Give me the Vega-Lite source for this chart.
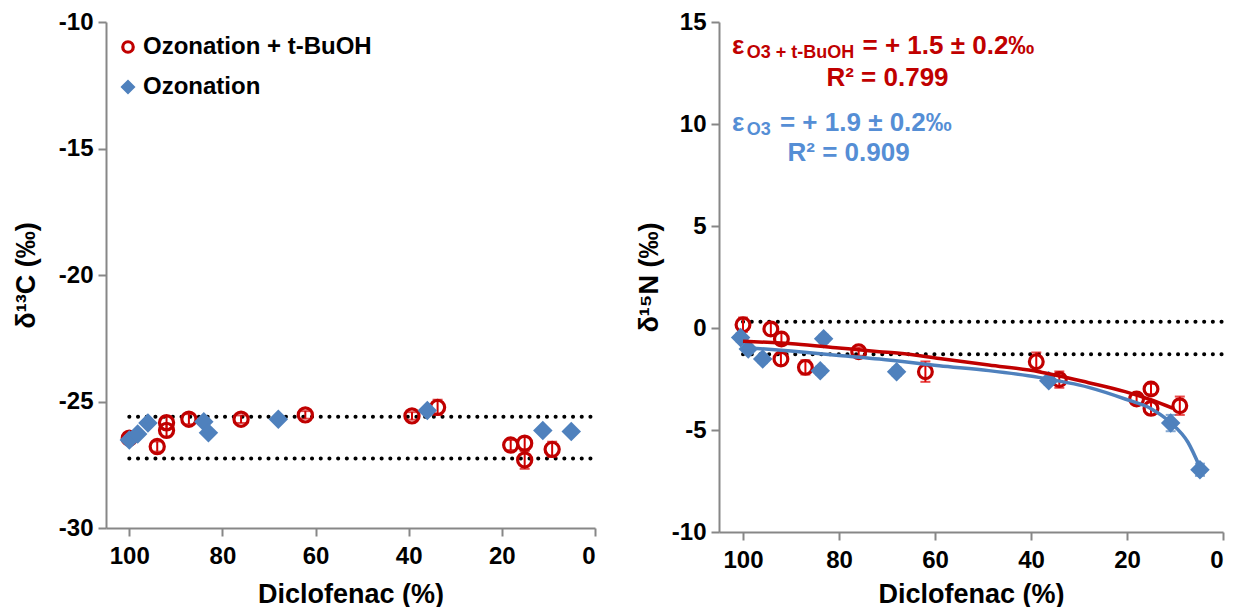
{
  "$schema": "https://vega.github.io/schema/vega-lite/v6.json",
  "background": "white",
  "padding": {"left": 12, "top": 10, "right": 0, "bottom": 0},
  "spacing": 38,
  "config": {
    "view": {"stroke": null},
    "font": "Liberation Sans",
    "axis": {
      "labelFont": "Liberation Sans", "labelFontWeight": "bold", "labelFontSize": 24, "labelColor": "#000000",
      "titleFont": "Liberation Sans", "titleFontWeight": "bold", "titleFontSize": 27, "titleColor": "#000000",
      "domainColor": "#878787", "domainWidth": 2, "tickColor": "#878787", "tickWidth": 2, "tickSize": 8, "grid": false,
      "labelExpr": "datum.value + ''"
    },
    "legend": {
      "labelFont": "Liberation Sans", "labelFontWeight": "bold", "labelFontSize": 24, "labelColor": "#000000",
      "symbolStrokeWidth": 3.2, "symbolSize": 110, "rowPadding": 16, "labelOffset": 3, "labelLimit": 400
    }
  },
  "datasets": {
    "pts": [
      {"panel": "C", "series": "Ozonation + t-BuOH", "f": 100, "v": -26.45, "e": 0.15},
      {"panel": "C", "series": "Ozonation + t-BuOH", "f": 92, "v": -25.84, "e": 0.25},
      {"panel": "C", "series": "Ozonation + t-BuOH", "f": 92, "v": -26.14, "e": 0.25},
      {"panel": "C", "series": "Ozonation + t-BuOH", "f": 94, "v": -26.78, "e": 0.2},
      {"panel": "C", "series": "Ozonation + t-BuOH", "f": 87.2, "v": -25.7, "e": 0.2},
      {"panel": "C", "series": "Ozonation + t-BuOH", "f": 76, "v": -25.7, "e": 0.15},
      {"panel": "C", "series": "Ozonation + t-BuOH", "f": 62.2, "v": -25.53, "e": 0.15},
      {"panel": "C", "series": "Ozonation + t-BuOH", "f": 39.3, "v": -25.57, "e": 0.15},
      {"panel": "C", "series": "Ozonation + t-BuOH", "f": 33.8, "v": -25.23, "e": 0.3},
      {"panel": "C", "series": "Ozonation + t-BuOH", "f": 18.1, "v": -26.72, "e": 0.2},
      {"panel": "C", "series": "Ozonation + t-BuOH", "f": 15.1, "v": -26.65, "e": 0.25},
      {"panel": "C", "series": "Ozonation + t-BuOH", "f": 15.1, "v": -27.31, "e": 0.35},
      {"panel": "C", "series": "Ozonation + t-BuOH", "f": 9.2, "v": -26.89, "e": 0.3},
      {"panel": "C", "series": "Ozonation", "f": 100, "v": -26.52, "e": 0.1},
      {"panel": "C", "series": "Ozonation", "f": 98.2, "v": -26.28, "e": 0.1},
      {"panel": "C", "series": "Ozonation", "f": 96, "v": -25.85, "e": 0.1},
      {"panel": "C", "series": "Ozonation", "f": 84, "v": -25.8, "e": 0.1},
      {"panel": "C", "series": "Ozonation", "f": 83, "v": -26.24, "e": 0.1},
      {"panel": "C", "series": "Ozonation", "f": 68, "v": -25.7, "e": 0.1},
      {"panel": "C", "series": "Ozonation", "f": 36, "v": -25.36, "e": 0.1},
      {"panel": "C", "series": "Ozonation", "f": 11.2, "v": -26.15, "e": 0.1},
      {"panel": "C", "series": "Ozonation", "f": 5.1, "v": -26.19, "e": 0.1},
      {"panel": "N", "series": "Ozonation + t-BuOH", "f": 100, "v": 0.16, "e": 0.35},
      {"panel": "N", "series": "Ozonation + t-BuOH", "f": 94.2, "v": -0.05, "e": 0.3},
      {"panel": "N", "series": "Ozonation + t-BuOH", "f": 92, "v": -0.54, "e": 0.3},
      {"panel": "N", "series": "Ozonation + t-BuOH", "f": 92.1, "v": -1.52, "e": 0.3},
      {"panel": "N", "series": "Ozonation + t-BuOH", "f": 87, "v": -1.93, "e": 0.35},
      {"panel": "N", "series": "Ozonation + t-BuOH", "f": 75.9, "v": -1.16, "e": 0.2},
      {"panel": "N", "series": "Ozonation + t-BuOH", "f": 62, "v": -2.14, "e": 0.5},
      {"panel": "N", "series": "Ozonation + t-BuOH", "f": 38.9, "v": -1.65, "e": 0.45},
      {"panel": "N", "series": "Ozonation + t-BuOH", "f": 34.1, "v": -2.53, "e": 0.4},
      {"panel": "N", "series": "Ozonation + t-BuOH", "f": 18, "v": -3.48, "e": 0.25},
      {"panel": "N", "series": "Ozonation + t-BuOH", "f": 15, "v": -2.99, "e": 0.25},
      {"panel": "N", "series": "Ozonation + t-BuOH", "f": 15, "v": -3.94, "e": 0.3},
      {"panel": "N", "series": "Ozonation + t-BuOH", "f": 9, "v": -3.81, "e": 0.45},
      {"panel": "N", "series": "Ozonation", "f": 100.5, "v": -0.46, "e": 0.2},
      {"panel": "N", "series": "Ozonation", "f": 98.9, "v": -1.03, "e": 0.2},
      {"panel": "N", "series": "Ozonation", "f": 95.9, "v": -1.52, "e": 0.2},
      {"panel": "N", "series": "Ozonation", "f": 83.2, "v": -0.53, "e": 0.2},
      {"panel": "N", "series": "Ozonation", "f": 83.9, "v": -2.09, "e": 0.2},
      {"panel": "N", "series": "Ozonation", "f": 68, "v": -2.14, "e": 0.2},
      {"panel": "N", "series": "Ozonation", "f": 36.3, "v": -2.58, "e": 0.2},
      {"panel": "N", "series": "Ozonation", "f": 10.9, "v": -4.66, "e": 0.4},
      {"panel": "N", "series": "Ozonation", "f": 4.8, "v": -6.95, "e": 0.3}
    ],
    "fits": [
      {"series": "Ozonation + t-BuOH", "f": 100, "v": -0.65},
      {"series": "Ozonation + t-BuOH", "f": 89, "v": -0.78},
      {"series": "Ozonation + t-BuOH", "f": 80, "v": -0.98},
      {"series": "Ozonation + t-BuOH", "f": 71.6, "v": -1.16},
      {"series": "Ozonation + t-BuOH", "f": 67.4, "v": -1.24},
      {"series": "Ozonation + t-BuOH", "f": 59.1, "v": -1.49},
      {"series": "Ozonation + t-BuOH", "f": 48.8, "v": -1.81},
      {"series": "Ozonation + t-BuOH", "f": 38.4, "v": -2.14},
      {"series": "Ozonation + t-BuOH", "f": 28, "v": -2.68},
      {"series": "Ozonation + t-BuOH", "f": 20.4, "v": -3.12},
      {"series": "Ozonation + t-BuOH", "f": 14.9, "v": -3.53},
      {"series": "Ozonation + t-BuOH", "f": 10.4, "v": -3.94},
      {"series": "Ozonation", "f": 100, "v": -0.95},
      {"series": "Ozonation", "f": 90, "v": -1.13},
      {"series": "Ozonation", "f": 80, "v": -1.35},
      {"series": "Ozonation", "f": 71.6, "v": -1.52},
      {"series": "Ozonation", "f": 59.1, "v": -1.85},
      {"series": "Ozonation", "f": 48.8, "v": -2.09},
      {"series": "Ozonation", "f": 38.4, "v": -2.42},
      {"series": "Ozonation", "f": 28, "v": -2.91},
      {"series": "Ozonation", "f": 20.4, "v": -3.48},
      {"series": "Ozonation", "f": 14.9, "v": -3.97},
      {"series": "Ozonation", "f": 11, "v": -4.62},
      {"series": "Ozonation", "f": 7.3, "v": -5.6},
      {"series": "Ozonation", "f": 4.8, "v": -6.83}
    ],
    "ann": [
      {"grp": "red-main", "f": 102.3, "v": 13.43, "label": "ε"},
      {"grp": "red-sub", "f": 99.2, "v": 13.24, "label": "O3 + t-BuOH"},
      {"grp": "red-main", "f": 75.1, "v": 13.43, "label": "= + 1.5 ± 0.2‰"},
      {"grp": "red-r2", "f": 69.9, "v": 11.86, "label": "R² = 0.799"},
      {"grp": "blue-main", "f": 102.3, "v": 9.66, "label": "ε"},
      {"grp": "blue-sub", "f": 99.2, "v": 9.46, "label": "O3"},
      {"grp": "blue-main", "f": 92.3, "v": 9.66, "label": "= + 1.9 ± 0.2‰"},
      {"grp": "blue-r2", "f": 78, "v": 8.19, "label": "R² = 0.909"}
    ]
  },
  "hconcat": [
    {
      "width": 489,
      "height": 506,
      "encoding": {
        "x": {"field": "f", "type": "quantitative", "title": "Diclofenac (%)",
              "scale": {"domain": [0, 105], "reverse": true, "nice": false, "zero": false},
              "axis": {"values": [0, 20, 40, 60, 80, 100], "labelPadding": 8, "titlePadding": 13}},
        "y": {"field": "v", "type": "quantitative", "title": "δ¹³C (‰)",
              "scale": {"domain": [-30, -10], "nice": false, "zero": false},
              "axis": {"values": [-30, -25, -20, -15, -10], "labelPadding": 5, "titlePadding": 18}}
      },
      "layer": [
        {
          "data": {"values": [{"f": 100, "f2": 0, "v": -25.6}, {"f": 100, "f2": 0, "v": -27.25}]},
          "mark": {"type": "rule", "strokeDash": [0.1, 8.6], "strokeCap": "round", "strokeWidth": 4, "color": "#000000"},
          "encoding": {"x2": {"field": "f2"}}
        },
        {
          "data": {"name": "pts"},
          "transform": [{"filter": "datum.panel === 'C' && datum.series === 'Ozonation + t-BuOH'"}],
          "mark": {"type": "errorbar", "thickness": 2, "ticks": {"size": 10, "thickness": 2}},
          "encoding": {"yError": {"field": "e"}, "color": {"value": "#D00000"}}
        },
        {
          "data": {"name": "pts"},
          "transform": [{"filter": "datum.panel === 'C' && datum.series === 'Ozonation + t-BuOH'"}],
          "mark": {"type": "point", "filled": true, "strokeWidth": 3.2, "size": 200, "opacity": 1},
          "encoding": {
            "shape": {"field": "series", "type": "nominal",
                      "scale": {"domain": ["Ozonation + t-BuOH", "Ozonation"], "range": ["circle", "diamond"]},
                      "legend": {"orient": "none", "legendX": 10, "legendY": 13, "title": null}},
            "fill": {"field": "series", "type": "nominal",
                     "scale": {"domain": ["Ozonation + t-BuOH", "Ozonation"], "range": ["transparent", "#4F81BD"]},
                     "legend": {"orient": "none", "legendX": 10, "legendY": 13, "title": null}},
            "stroke": {"field": "series", "type": "nominal",
                       "scale": {"domain": ["Ozonation + t-BuOH", "Ozonation"], "range": ["#C00000", "#4F81BD"]},
                       "legend": {"orient": "none", "legendX": 10, "legendY": 13, "title": null}}
          }
        },
        {
          "data": {"name": "pts"},
          "transform": [{"filter": "datum.panel === 'C' && datum.series === 'Ozonation'"}],
          "mark": {"type": "point", "filled": true, "strokeWidth": 0, "size": 380, "opacity": 1},
          "encoding": {
            "shape": {"field": "series", "type": "nominal"},
            "fill": {"field": "series", "type": "nominal"},
            "stroke": {"field": "series", "type": "nominal"}
          }
        }
      ]
    },
    {
      "width": 504,
      "height": 510,
      "encoding": {
        "x": {"field": "f", "type": "quantitative", "title": "Diclofenac (%)",
              "scale": {"domain": [0, 105], "reverse": true, "nice": false, "zero": false},
              "axis": {"values": [0, 20, 40, 60, 80, 100], "labelPadding": 8, "titlePadding": 9}},
        "y": {"field": "v", "type": "quantitative", "title": "δ¹⁵N (‰)",
              "scale": {"domain": [-10, 15], "nice": false, "zero": false},
              "axis": {"values": [-10, -5, 0, 5, 10, 15], "labelPadding": 5, "titlePadding": 8}}
      },
      "layer": [
        {
          "data": {"values": [{"f": 100, "f2": 0, "v": 0.31}, {"f": 100, "f2": 0, "v": -1.29}]},
          "mark": {"type": "rule", "strokeDash": [0.1, 8.6], "strokeCap": "round", "strokeWidth": 4, "color": "#000000"},
          "encoding": {"x2": {"field": "f2"}}
        },
        {
          "data": {"name": "pts"},
          "transform": [{"filter": "datum.panel === 'N' && datum.series === 'Ozonation + t-BuOH'"}],
          "mark": {"type": "errorbar", "thickness": 2, "ticks": {"size": 10, "thickness": 2}},
          "encoding": {"yError": {"field": "e"}, "color": {"value": "#E00000"}}
        },
        {
          "data": {"name": "pts"},
          "transform": [{"filter": "datum.panel === 'N' && datum.series === 'Ozonation'"}],
          "mark": {"type": "errorbar", "thickness": 2, "ticks": {"size": 10, "thickness": 2}},
          "encoding": {"yError": {"field": "e"}, "color": {"value": "#4F81BD"}}
        },
        {
          "data": {"name": "pts"},
          "transform": [{"filter": "datum.panel === 'N' && datum.series === 'Ozonation + t-BuOH'"}],
          "mark": {"type": "point", "shape": "circle", "filled": false, "stroke": "#C00000", "strokeWidth": 3.2, "size": 190, "opacity": 1}
        },
        {
          "data": {"name": "pts"},
          "transform": [{"filter": "datum.panel === 'N' && datum.series === 'Ozonation'"}],
          "mark": {"type": "point", "shape": "diamond", "filled": true, "fill": "#4F81BD", "strokeWidth": 0, "size": 380, "opacity": 1}
        },
        {
          "data": {"name": "fits"},
          "transform": [{"filter": "datum.series === 'Ozonation + t-BuOH'"}],
          "mark": {"type": "line", "color": "#C00000", "strokeWidth": 3.5, "interpolate": "monotone"}
        },
        {
          "data": {"name": "fits"},
          "transform": [{"filter": "datum.series === 'Ozonation'"}],
          "mark": {"type": "line", "color": "#4F81BD", "strokeWidth": 3.5, "interpolate": "monotone"}
        },
        {
          "data": {"name": "ann"},
          "transform": [{"filter": "datum.grp === 'red-main'"}],
          "mark": {"type": "text", "align": "left", "baseline": "alphabetic", "font": "Liberation Sans", "fontWeight": "bold", "fontSize": 26, "color": "#C00000"},
          "encoding": {"text": {"field": "label"}}
        },
        {
          "data": {"name": "ann"},
          "transform": [{"filter": "datum.grp === 'red-sub'"}],
          "mark": {"type": "text", "align": "left", "baseline": "alphabetic", "font": "Liberation Sans", "fontWeight": "bold", "fontSize": 18, "color": "#C00000"},
          "encoding": {"text": {"field": "label"}}
        },
        {
          "data": {"name": "ann"},
          "transform": [{"filter": "datum.grp === 'red-r2'"}],
          "mark": {"type": "text", "align": "center", "baseline": "alphabetic", "font": "Liberation Sans", "fontWeight": "bold", "fontSize": 26, "color": "#C00000"},
          "encoding": {"text": {"field": "label"}}
        },
        {
          "data": {"name": "ann"},
          "transform": [{"filter": "datum.grp === 'blue-main'"}],
          "mark": {"type": "text", "align": "left", "baseline": "alphabetic", "font": "Liberation Sans", "fontWeight": "bold", "fontSize": 26, "color": "#558ED5"},
          "encoding": {"text": {"field": "label"}}
        },
        {
          "data": {"name": "ann"},
          "transform": [{"filter": "datum.grp === 'blue-sub'"}],
          "mark": {"type": "text", "align": "left", "baseline": "alphabetic", "font": "Liberation Sans", "fontWeight": "bold", "fontSize": 18, "color": "#558ED5"},
          "encoding": {"text": {"field": "label"}}
        },
        {
          "data": {"name": "ann"},
          "transform": [{"filter": "datum.grp === 'blue-r2'"}],
          "mark": {"type": "text", "align": "center", "baseline": "alphabetic", "font": "Liberation Sans", "fontWeight": "bold", "fontSize": 26, "color": "#558ED5"},
          "encoding": {"text": {"field": "label"}}
        }
      ]
    }
  ]
}
